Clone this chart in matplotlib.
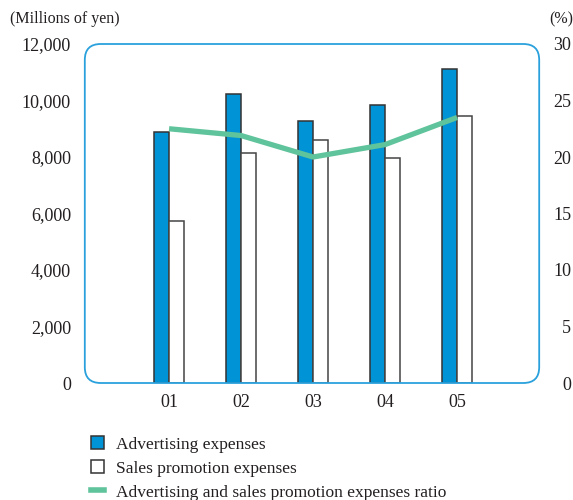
import numpy as np
import matplotlib.pyplot as plt
from matplotlib.patches import FancyBboxPatch, Patch
from matplotlib.lines import Line2D

# Data (fiscal years, millions of yen and %)
years = ['01', '02', '03', '04', '05']
advertising = [8900, 10220, 9260, 9850, 11130]
sales_promotion = [5750, 8130, 8600, 7980, 9460]
ratio = [22.5, 21.9, 20.0, 21.1, 23.5]

plt.rcParams['font.family'] = ['Liberation Serif', 'DejaVu Serif']
txt = '#231f20'
blue = '#0093d6'
green = '#5fc39b'
frame = '#2aa1dc'

fig = plt.figure(figsize=(5.73, 5.0), dpi=100)
ax = fig.add_axes([0.148, 0.234, 0.793, 0.678])
ax2 = ax.twinx()

x = np.arange(len(years))
w = 0.21
ax.bar(x - w / 2, advertising, w, color=blue, edgecolor='#333333', linewidth=1.1, zorder=3)
ax.bar(x + w / 2, sales_promotion, w, color='white', edgecolor='#444444', linewidth=1.1, zorder=3)
ax2.plot(x, ratio, color=green, linewidth=3.8, solid_capstyle='butt', zorder=4)

ax.set_xlim(-1.17, 5.14)
ax.set_ylim(0, 12000)
ax2.set_ylim(0, 30)
ax.set_yticks(range(0, 12001, 2000))
ax.set_yticklabels([f'{v:,}' for v in range(0, 12001, 2000)])
ax2.set_yticks(range(0, 31, 5))
ax.set_xticks(x)
ax.set_xticklabels(years)

for a in (ax, ax2):
    for s in a.spines.values():
        s.set_visible(False)
    a.tick_params(length=0, labelsize=13, colors=txt)
ax.tick_params(axis='y', pad=10)
ax.tick_params(axis='x', pad=8)
# right-hand labels are right-aligned
ax2.tick_params(axis='y', pad=23)
for lbl in ax2.get_yticklabels():
    lbl.set_horizontalalignment('right')

# rounded frame around the plot area
box = FancyBboxPatch((0, 0), 1, 1, boxstyle='round,pad=0,rounding_size=0.035',
                     transform=ax.transAxes, facecolor='none', edgecolor=frame,
                     linewidth=1.3, clip_on=False, zorder=5,
                     mutation_aspect=454 / 339)
ax.add_patch(box)

fig.text(0.017, 0.962, '(Millions of yen)', fontsize=11.5, color=txt, va='center')
fig.text(0.958, 0.962, '(%)', fontsize=11.5, color=txt, va='center')

handles = [
    Patch(facecolor=blue, edgecolor='#333333', linewidth=1.1),
    Patch(facecolor='white', edgecolor='#333333', linewidth=1.1),
    Line2D([0], [0], color=green, linewidth=4),
]
labels = ['Advertising expenses', 'Sales promotion expenses',
          'Advertising and sales promotion expenses ratio']
fig.legend(handles, labels, loc='upper left', bbox_to_anchor=(0.158, 0.128),
           frameon=False, fontsize=12.5, handlelength=0.75, handleheight=0.8,
           handletextpad=0.7, labelspacing=0.42, borderaxespad=0, borderpad=0,
           labelcolor=txt)

fig.savefig('out.png', dpi=100)
